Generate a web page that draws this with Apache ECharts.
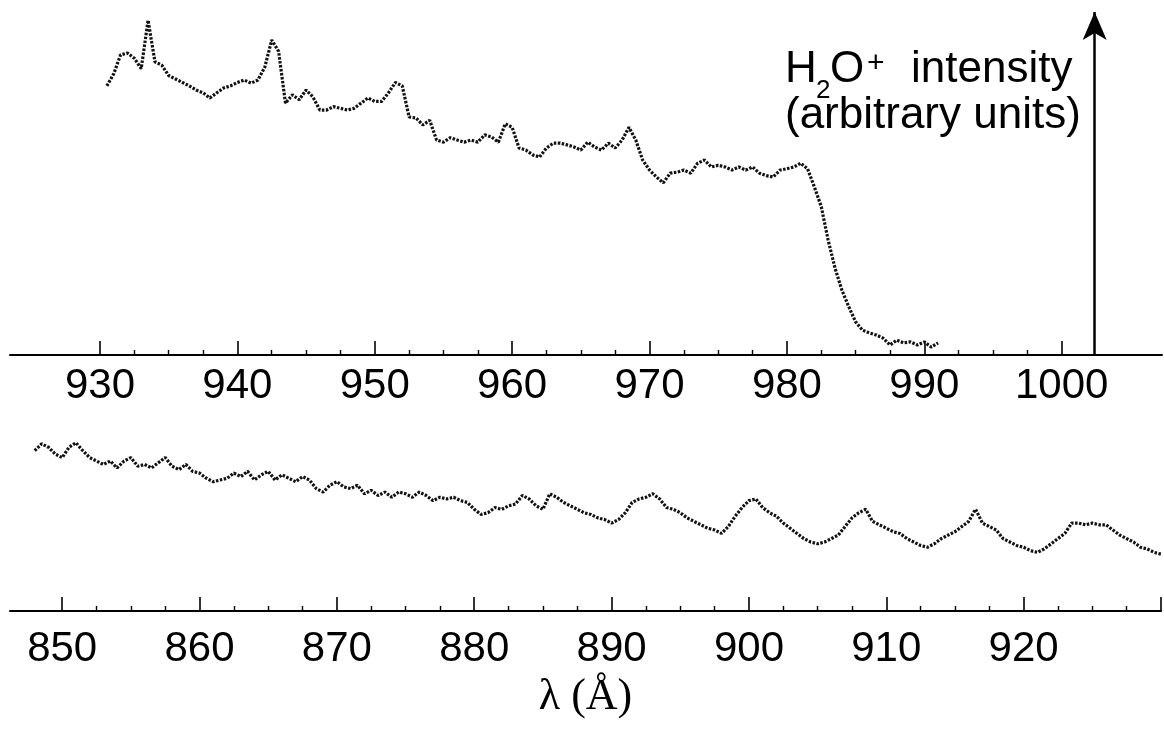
<!DOCTYPE html>
<html>
<head>
<meta charset="utf-8">
<script src="https://cdn.jsdelivr.net/npm/echarts@6.0.0/dist/echarts.min.js"></script>
<style>html,body{margin:0;padding:0;background:#fff}#c{width:1164px;height:740px}</style>
</head>
<body>
<div id="c"></div>
<script>
// ---------- DATA ----------
const topWavelengths = [
  930.5, 931, 931.5, 932, 932.5, 933, 933.5, 934, 934.5, 935,
  935.5, 936, 936.5, 937, 937.5, 938, 938.5, 939, 939.5, 940,
  940.5, 941, 941.5, 942, 942.5, 943, 943.5, 944, 944.5, 945,
  945.5, 946, 946.5, 947, 947.5, 948, 948.5, 949, 949.5, 950,
  950.5, 951, 951.5, 952, 952.5, 953, 953.5, 954, 954.5, 955,
  955.5, 956, 956.5, 957, 957.5, 958, 958.5, 959, 959.5, 960,
  960.5, 961, 961.5, 962, 962.5, 963, 963.5, 964, 964.5, 965,
  965.5, 966, 966.5, 967, 967.5, 968, 968.5, 969, 969.5, 970,
  970.5, 971, 971.5, 972, 972.5, 973, 973.5, 974, 974.5, 975,
  975.5, 976, 976.5, 977, 977.5, 978, 978.5, 979, 979.5, 980,
  980.5, 981, 981.5, 982, 982.5, 983, 983.5, 984, 984.5, 985,
  985.5, 986, 986.5, 987, 987.5, 988, 988.5, 989, 989.5, 990,
  990.5, 991
];
const topIntensity = [
  78, 81.5, 87, 87.5, 86, 83, 97, 85, 84, 81,
  80, 79, 78, 76.8, 76, 74.5, 76, 77.4, 78, 79,
  79.7, 78.8, 79.7, 83.5, 91.3, 88, 73, 75.4, 74, 76.8,
  74.8, 71, 71, 72, 71.5, 71, 71.5, 73, 74.5, 73.5,
  73.5, 76, 79, 78, 69, 68.7, 66.7, 68, 62.3, 61.7,
  63, 62.3, 61.7, 62.3, 61.7, 63.8, 63.2, 61.7, 67, 66,
  60, 59.4, 58, 57.4, 60, 61.4, 61.4, 60.9, 60.3, 59.4,
  61.7, 60.3, 59.4, 61.4, 60, 62.3, 66, 62.3, 56.5, 53.6,
  51.6, 49.9, 52.7, 53, 53.6, 52.7, 55.6, 56.5, 54.5, 55,
  54.5, 53.6, 54.5, 53.6, 54.5, 52.7, 52, 51.6, 53.6, 54,
  54.5, 55.6, 54, 48.7, 43, 33.3, 25.2, 18.8, 14, 9.6,
  7.2, 6.4, 5.8, 4.9, 2.9, 4.3, 3.5, 3.8, 2.9, 3.8,
  2.3, 3.5
];
const bottomWavelengths = [
  848, 848.5, 849, 849.5, 850, 850.5, 851, 851.5, 852, 852.5,
  853, 853.5, 854, 854.5, 855, 855.5, 856, 856.5, 857, 857.5,
  858, 858.5, 859, 859.5, 860, 860.5, 861, 861.5, 862, 862.5,
  863, 863.5, 864, 864.5, 865, 865.5, 866, 866.5, 867, 867.5,
  868, 868.5, 869, 869.5, 870, 870.5, 871, 871.5, 872, 872.5,
  873, 873.5, 874, 874.5, 875, 875.5, 876, 876.5, 877, 877.5,
  878, 878.5, 879, 879.5, 880, 880.5, 881, 881.5, 882, 882.5,
  883, 883.5, 884, 884.5, 885, 885.5, 886, 886.5, 887, 887.5,
  888, 888.5, 889, 889.5, 890, 890.5, 891, 891.5, 892, 892.5,
  893, 893.5, 894, 894.5, 895, 895.5, 896, 896.5, 897, 897.5,
  898, 898.5, 899, 899.5, 900, 900.5, 901, 901.5, 902, 902.5,
  903, 903.5, 904, 904.5, 905, 905.5, 906, 906.5, 907, 907.5,
  908, 908.5, 909, 909.5, 910, 910.5, 911, 911.5, 912, 912.5,
  913, 913.5, 914, 914.5, 915, 915.5, 916, 916.5, 917, 917.5,
  918, 918.5, 919, 919.5, 920, 920.5, 921, 921.5, 922, 922.5,
  923, 923.5, 924, 924.5, 925, 925.5, 926, 926.5, 927, 927.5,
  928, 928.5, 929, 929.5, 930
];
const bottomIntensity = [
  46.5, 48.5, 47.5, 45.5, 44.5, 47.5, 48.8, 46.5, 44.5, 43.5,
  42.5, 43.5, 41.5, 43.5, 44.5, 42, 42.5, 41.5, 43, 44.5,
  42, 41, 42.5, 40.5, 40, 38.5, 37.5, 38, 38.5, 40,
  39, 40.5, 38, 39.5, 40.5, 38, 39.5, 38.5, 37.5, 39,
  38, 35.5, 34.5, 36.5, 37.5, 36, 35.5, 36.5, 34, 35,
  33.5, 34.5, 33, 34.5, 34, 33, 34.5, 33.5, 32, 33,
  32.5, 33, 32, 31.5, 29.5, 28, 28.5, 30, 29.5, 30.5,
  31, 33.5, 32.5, 30.5, 29.5, 34, 33, 31.5, 30.5, 29.5,
  28.5, 28, 27, 26.5, 25.5, 26.5, 28.5, 31.5, 32.5, 33,
  34, 32.5, 30, 29.5, 28.5, 27, 26, 25, 24, 23.5,
  22.5, 24.5, 27.5, 30, 32, 32.5, 30, 28.5, 27.5, 25.5,
  24, 22.5, 21, 20, 19.5, 20, 21, 22, 24.5, 27,
  28.5, 29.5, 26, 25, 24, 23, 22.5, 21, 20, 19,
  18.5, 19.5, 21, 22, 23, 24.5, 26, 29.5, 25.5, 24.5,
  23.5, 21, 20, 19, 18.5, 17.5, 17, 18, 19.5, 21,
  22.5, 25.5, 25.5, 25, 25.5, 25, 25, 23.5, 22, 21,
  20, 18.5, 18, 17, 16.5
];
const topMajorTicks = [930, 940, 950, 960, 970, 980, 990, 1000];
const topMinorTicks = [932.5, 935, 937.5, 942.5, 945, 947.5, 952.5, 955, 957.5, 962.5, 965, 967.5,
  972.5, 975, 977.5, 982.5, 985, 987.5, 992.5, 995, 997.5];
const bottomMajorTicks = [850, 860, 870, 880, 890, 900, 910, 920, 930];
const bottomTickLabels = [850, 860, 870, 880, 890, 900, 910, 920];
const bottomMinorTicks = [852.5, 855, 857.5, 862.5, 865, 867.5, 872.5, 875, 877.5, 882.5, 885, 887.5,
  892.5, 895, 897.5, 902.5, 905, 907.5, 912.5, 915, 917.5, 922.5, 925, 927.5];
const topRange = [923.45, 1007.3];
const bottomRange = [846.2, 930];
const intensityArrowAt = 1002.4;          // wavelength (top scale) where the intensity arrow stands
const intensityArrowSpan = [0, 99.4];     // arrow from axis up to this intensity
const xAxisName = 'λ (Å)';

// ---------- CHART ----------
const sans = '"Liberation Sans", Arial, Helvetica, sans-serif';
const zip = (xs, ys) => xs.map((x, i) => [x, ys[i]]);

function majorAxis(gi, range, ticks, labels, margin, extra) {
  return Object.assign({
    gridIndex: gi, type: 'value', position: 'bottom', min: range[0], max: range[1],
    axisLine: { show: true, onZero: false, lineStyle: { color: '#000', width: 2 } },
    axisTick: { show: true, inside: true, length: 14, customValues: ticks, lineStyle: { color: '#000', width: 1.6 } },
    axisLabel: { show: true, customValues: labels, margin: margin, fontSize: 42, color: '#000', fontFamily: sans,
      formatter: function (v) { return String(v); } },
    splitLine: { show: false }
  }, extra || {});
}
function minorAxis(gi, range, ticks) {
  return {
    gridIndex: gi, type: 'value', position: 'bottom', min: range[0], max: range[1],
    axisLine: { show: false },
    axisTick: { show: true, inside: true, length: 5, customValues: ticks, lineStyle: { color: '#000', width: 1.4 } },
    axisLabel: { show: false }, splitLine: { show: false }
  };
}

const traceStyle = { color: '#111', width: 3.2, type: [2.5, 1.5] };

const option = {
  animation: false,
  backgroundColor: '#fff',
  grid: [
    { left: 10, right: 2, top: 10, height: 345 },
    { left: 10, right: 3, top: 430, height: 181 }
  ],
  xAxis: [
    majorAxis(0, topRange, topMajorTicks, topMajorTicks, 10),
    minorAxis(0, topRange, topMinorTicks),
    majorAxis(1, bottomRange, bottomMajorTicks, bottomTickLabels, 17, {
      name: xAxisName, nameLocation: 'middle', nameGap: 64,
      nameTextStyle: { fontSize: 44, color: '#000', fontFamily: '"Liberation Serif", "Times New Roman", serif' }
    }),
    minorAxis(1, bottomRange, bottomMinorTicks)
  ],
  yAxis: [
    { gridIndex: 0, type: 'value', min: 0, max: 100, show: false },
    { gridIndex: 1, type: 'value', min: 0, max: 52.5, show: false }
  ],
  series: [
    {
      type: 'line', xAxisIndex: 0, yAxisIndex: 0, data: zip(topWavelengths, topIntensity),
      showSymbol: false, lineStyle: traceStyle,
      markLine: {
        silent: true, symbol: ['none', 'arrow'], symbolSize: [18, 28],
        lineStyle: { color: '#000', width: 2.5, type: 'solid' }, label: { show: false },
        data: [[{ coord: [intensityArrowAt, intensityArrowSpan[0]] }, { coord: [intensityArrowAt, intensityArrowSpan[1]] }]]
      }
    },
    {
      type: 'line', xAxisIndex: 2, yAxisIndex: 1, data: zip(bottomWavelengths, bottomIntensity),
      showSymbol: false, lineStyle: traceStyle
    }
  ],
  graphic: [
    { type: 'text', x: 785, y: 70, style: { text: 'H', font: '44px ' + sans, fill: '#000', align: 'left', verticalAlign: 'middle' } },
    { type: 'text', x: 816, y: 91, style: { text: '2', font: '26px ' + sans, fill: '#000', align: 'left', verticalAlign: 'middle' } },
    { type: 'text', x: 830, y: 70, style: { text: 'O', font: '44px ' + sans, fill: '#000', align: 'left', verticalAlign: 'middle' } },
    { type: 'text', x: 867, y: 64, style: { text: '+', font: '30px ' + sans, fill: '#000', align: 'left', verticalAlign: 'middle' } },
    { type: 'text', x: 911, y: 70, style: { text: 'intensity', font: '44px ' + sans, fill: '#000', align: 'left', verticalAlign: 'middle' } },
    { type: 'text', x: 785, y: 116, style: { text: '(arbitrary units)', font: '44px ' + sans, fill: '#000', align: 'left', verticalAlign: 'middle' } }
  ]
};

const chart = echarts.init(document.getElementById('c'), null, { renderer: 'canvas' });
chart.setOption(option);
</script>
</body>
</html>
